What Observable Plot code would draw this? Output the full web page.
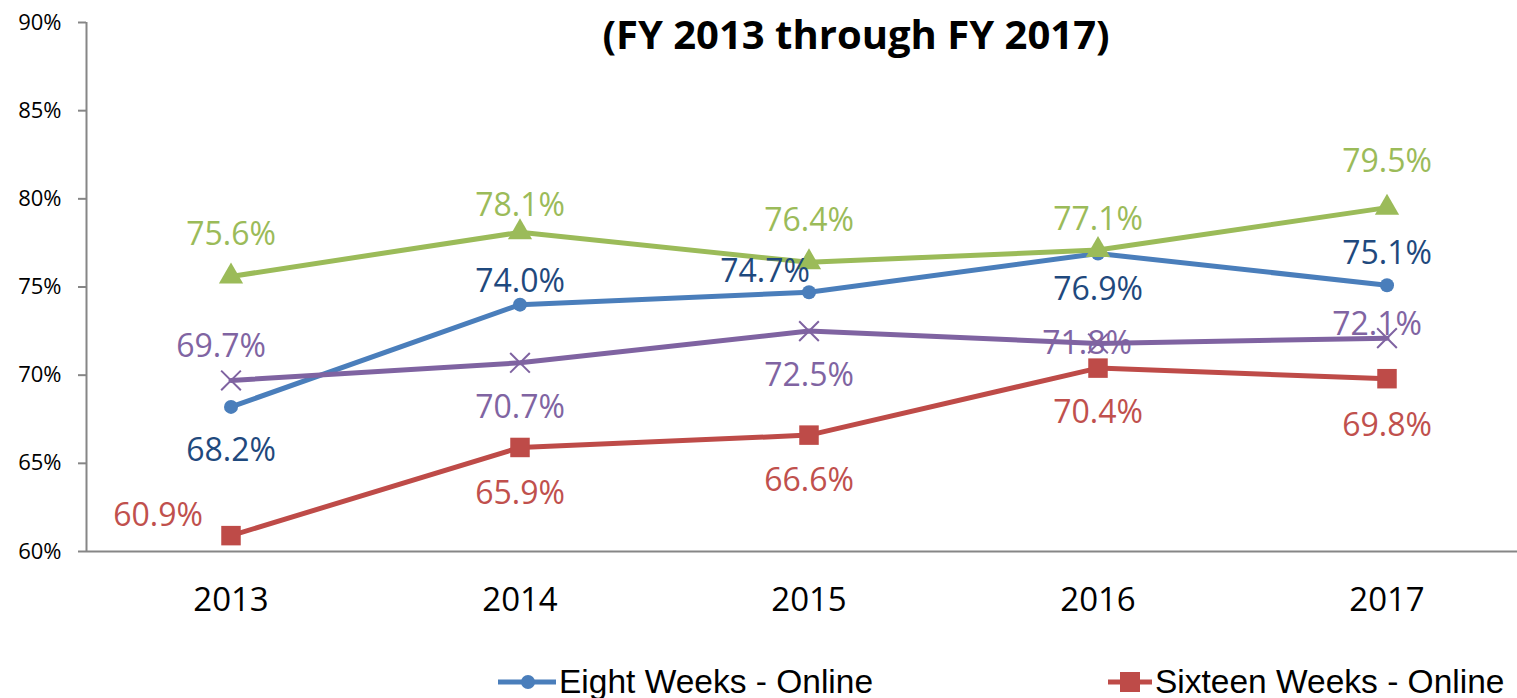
<!DOCTYPE html>
<html>
<head>
<meta charset="utf-8">
<script src="https://cdn.jsdelivr.net/npm/d3@7"></script>
<script src="https://cdn.jsdelivr.net/npm/@observablehq/plot@0.6"></script>
<style>
  html, body { margin: 0; padding: 0; background: #fff; width: 1517px; height: 698px; overflow: hidden; }
  #wrap { position: relative; width: 1517px; height: 698px; }
  #title { position: absolute; top: 14px; left: 856px; transform: translateX(-50%); white-space: nowrap;
           font-family: "Open Sans", sans-serif; font-weight: 700; font-size: 40px; color: #000; line-height: 1; }
  #legend { position: absolute; top: 663px; left: 0; width: 1517px; height: 60px; }
  .item { position: absolute; top: 0; display: flex; align-items: center; white-space: nowrap;
          font-family: "Liberation Sans Narrow", "Arial Narrow", sans-serif; font-size: 33.5px; color: #000; }
  .item svg { margin-right: 3px; }
</style>
</head>
<body>
<div id="wrap">
  <div id="chart"></div>
  <div id="title">(FY 2013 through FY 2017)</div>
  <div id="legend"></div>
</div>
<script>
// ---- data ----
const years = [2013, 2014, 2015, 2016, 2017];
const yTicks = [60, 65, 70, 75, 80, 85, 90];
const seriesNames = ["Eight Weeks - Online", "Sixteen Weeks - Online", "Series 3", "Series 4"];
const eightWeeksOnline = [68.2, 74.0, 74.7, 76.9, 75.1];
const sixteenWeeksOnline = [60.9, 65.9, 66.6, 70.4, 69.8];
const series3 = [75.6, 78.1, 76.4, 77.1, 79.5];
const series4 = [69.7, 70.7, 72.5, 71.8, 72.1];

// ---- styling ----
const styles = [
  {values: eightWeeksOnline, line: "#4a7ebb", label: "#1f497d", symbol: "circle", r: 7, markerStroke: false,
   nudge: [[0, 44], [0, -23], [-44, -21], [0, 36], [0, -31]]},
  {values: sixteenWeeksOnline, line: "#be4b48", label: "#c0504d", symbol: "square", r: 11, markerStroke: false,
   nudge: [[-73, -20], [0, 46], [0, 46], [0, 45], [0, 47]]},
  {values: series3, line: "#9bbb59", label: "#9bbb59", symbol: "triangle", r: 9, markerStroke: false,
   nudge: [[0, -42], [0, -27], [0, -42], [0, -30], [0, -46]]},
  {values: series4, line: "#7f63a1", label: "#8064a2", symbol: "times", r: 9, markerStroke: true,
   nudge: [[-10, -34], [0, 45], [0, 45], [-11, 0], [-10, -13]]}
];

const rows = styles.map((s, i) => years.map((yr, j) => ({series: seriesNames[i], year: yr, value: s.values[j]})));

const marks = [];
rows.forEach((r, i) => {
  marks.push(Plot.line(r, {x: "year", y: "value", stroke: styles[i].line, strokeWidth: 5, strokeLinejoin: "round"}));
});
rows.forEach((r, i) => {
  const s = styles[i];
  if (s.markerStroke) {
    marks.push(Plot.dot(r, {x: "year", y: "value", symbol: s.symbol, r: s.r, stroke: s.line, strokeWidth: 2}));
  } else {
    marks.push(Plot.dot(r, {x: "year", y: "value", symbol: s.symbol, r: s.r, fill: s.line, stroke: "none"}));
  }
});
rows.forEach((r, i) => {
  const s = styles[i];
  r.forEach((d, j) => {
    marks.push(Plot.text([d], {x: "year", y: "value", text: v => v.value.toFixed(1) + "%",
      dx: s.nudge[j][0], dy: s.nudge[j][1], fill: s.label,
      fontFamily: "Open Sans, sans-serif", fontSize: 32}));
  });
});

const chart = Plot.plot({
  width: 1517,
  height: 640,
  marginTop: 22,
  marginBottom: 89,
  marginLeft: 86,
  marginRight: -14,
  style: {background: "#fff", overflow: "hidden"},
  x: {domain: [2012.5, 2017.5]},
  y: {domain: [60, 90]},
  marks: [
    Plot.axisY({ticks: yTicks, tickFormat: d => d + "%", tickSize: 8, tickPadding: 17, stroke: "#868686",
      strokeWidth: 2, fontSize: 22, fontFamily: "Open Sans, sans-serif", fill: "#000", label: null}),
    Plot.axisX({ticks: years, tickFormat: d => String(d), tickSize: 0, tickPadding: 36, fontSize: 33,
      fontFamily: "Open Sans, sans-serif", fill: "#000", label: null}),
    Plot.ruleX([2012.5], {stroke: "#868686", strokeWidth: 2}),
    Plot.ruleY([60], {stroke: "#868686", strokeWidth: 2}),
    ...marks
  ]
});
document.getElementById("chart").appendChild(chart);

// ---- legend (visible part) ----
const legendItems = [
  {name: seriesNames[0], color: styles[0].line, symbol: "circle", left: 498},
  {name: seriesNames[1], color: styles[1].line, symbol: "square", left: 1108}
];
const legend = document.getElementById("legend");
legendItems.forEach(it => {
  const div = document.createElement("div");
  div.className = "item";
  div.style.left = it.left + "px";
  const w = it.symbol === "circle" ? 58 : 44;
  const sym = it.symbol === "circle"
    ? `<circle cx="30" cy="12" r="7" fill="${it.color}"/>`
    : `<rect x="12" y="2" width="20" height="20" fill="${it.color}"/>`;
  div.innerHTML = `<svg width="${w}" height="24"><line x1="0" x2="${w}" y1="12" y2="12" stroke="${it.color}" stroke-width="5"/>${sym}</svg><span>${it.name}</span>`;
  legend.appendChild(div);
});
</script>
</body>
</html>
